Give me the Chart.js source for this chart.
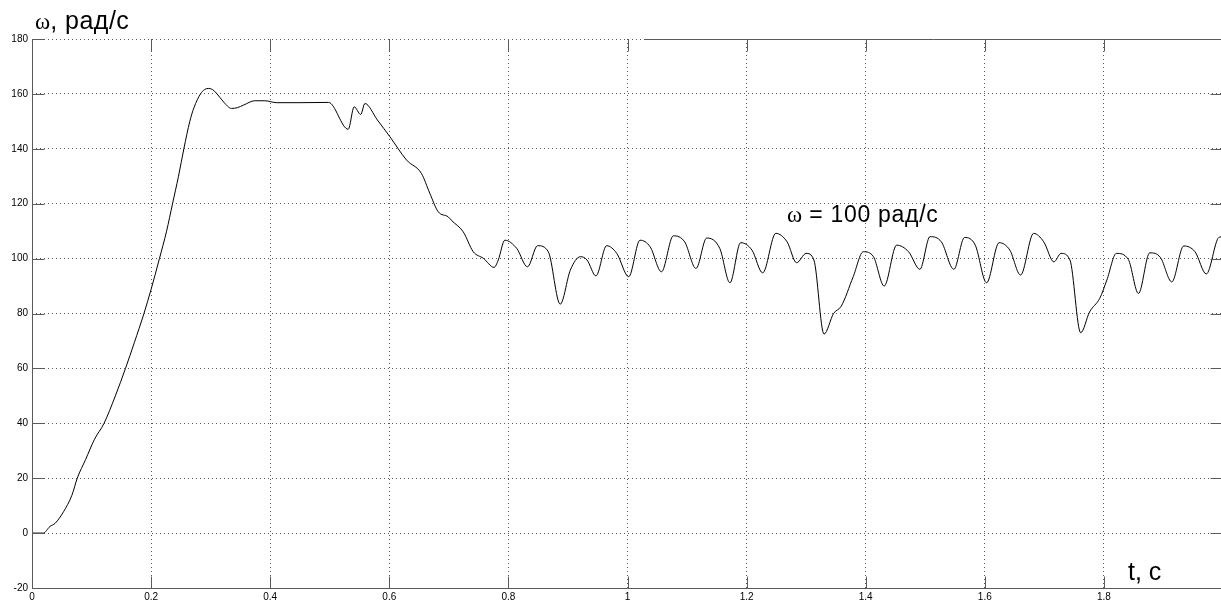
<!DOCTYPE html>
<html>
<head>
<meta charset="utf-8">
<script src="https://cdn.jsdelivr.net/npm/chart.js@4/dist/chart.umd.min.js"></script>
<style>
  html, body { margin: 0; padding: 0; background: #fff; overflow: hidden; }
  #wrap { position: relative; width: 1221px; height: 600px; overflow: hidden; }
  canvas { position: absolute; left: 0; top: 0; }
</style>
</head>
<body>
<div id="wrap"><canvas id="c" width="1240" height="620"></canvas></div>
<script>
// Rotor speed transient, ω(t)
const timeS = [
  0, 0.019, 0.030, 0.039, 0.053, 0.067, 0.076, 0.09, 0.105, 0.121,
  0.14, 0.157, 0.172, 0.188, 0.2, 0.214, 0.226, 0.236, 0.246, 0.255,
  0.265, 0.272, 0.283, 0.29, 0.296, 0.303, 0.31, 0.322, 0.335, 0.345,
  0.355, 0.374, 0.391, 0.411, 0.45, 0.498, 0.531, 0.541, 0.552, 0.559,
  0.58, 0.601, 0.629, 0.654, 0.668, 0.682, 0.699, 0.705, 0.724, 0.741,
  0.758, 0.776, 0.783, 0.794, 0.814, 0.832, 0.849, 0.867, 0.887, 0.904,
  0.921, 0.932, 0.947, 0.965, 0.982, 1.002, 1.021, 1.038, 1.057, 1.077,
  1.096, 1.115, 1.133, 1.155, 1.172, 1.19, 1.209, 1.227, 1.249, 1.268,
  1.284, 1.3, 1.313, 1.33, 1.346, 1.359, 1.379, 1.396, 1.413, 1.431,
  1.452, 1.472, 1.491, 1.508, 1.527, 1.548, 1.566, 1.584, 1.603, 1.624,
  1.642, 1.66, 1.682, 1.699, 1.716, 1.728, 1.743, 1.761, 1.776, 1.793,
  1.805, 1.821, 1.841, 1.858, 1.877, 1.895, 1.914, 1.934, 1.953, 1.972,
  1.993, 2.0
];
const omega = [
  0, 0, 2.4, 3.6, 7.8, 13.8, 20, 26.8, 34.2, 40,
  50, 60, 69.5, 80, 88.8, 100, 110, 120, 130, 140,
  150, 155, 160, 161.6, 162, 161.6, 160.2, 157, 154.7, 155,
  155.9, 157.5, 157.5, 156.8, 156.8, 156.9, 147.1, 155.3, 152.5, 156.5,
  150.5, 144.4, 135.9, 131.0, 123.8, 117.1, 115.2, 113.8, 109.8, 102.5,
  100.1, 96.8, 99.5, 106.7, 103.7, 97.0, 104.7, 102.5, 83.4, 95.8,
  100.7, 99.5, 93.7, 104.7, 101.9, 93.4, 106.7, 104.3, 95.2, 108.3,
  106.1, 96.4, 107.5, 103.7, 91.2, 105.8, 103.1, 94.8, 109.2, 106.1,
  98.5, 101.9, 99.5, 72.5, 80.0, 82.7, 93.4, 102.5, 100.7, 90.0,
  104.9, 102.5, 96.1, 108.0, 106.1, 96.1, 107.7, 104.9, 91.2, 105.8,
  103.1, 94.0, 109.2, 106.1, 98.8, 101.9, 99.5, 73.0, 80.6, 85.5,
  92.2, 101.9, 99.7, 87.3, 102.1, 100.4, 91.5, 104.6, 102.5, 94.4,
  107.7, 108
];
const xTickLabels = ['0', '0.2', '0.4', '0.6', '0.8', '1', '1.2', '1.4', '1.6', '1.8'];
const yTickLabels = ['-20', '0', '20', '40', '60', '80', '100', '120', '140', '160', '180'];
const yAxisTitle = ['ω', ', рад/с'];
const xAxisTitle = 't, с';
const steadyNote = ['ω', ' = 100 рад/с'];
const steadyNoteAt = { t: 1.268, w: 113.4 };

const canvas = document.getElementById('c');
const W = canvas.width, H = canvas.height;
const PLOT_RIGHT = 1223, PLOT_BOTTOM = 588, PLOT_TOP = 39, PLOT_LEFT = 32;
// the upper frame edge is blanked under the heading strip, up to this time value
const TOP_EDGE_FROM_T = 1.03;
const SANS = '"Liberation Sans", Arial, sans-serif';
const SERIF = '"Liberation Serif", "Times New Roman", serif';

// Box, inward tick marks and text labels on top of the plot
const frameAndText = {
  id: 'frameAndText',
  afterDraw(chart) {
    const { ctx, chartArea: a, scales: { x, y } } = chart;
    const L = Math.round(a.left) + 0.5, R = Math.round(a.right) - 0.5;
    const T = Math.round(a.top) + 0.5, B = Math.round(a.bottom) + 0.5;
    ctx.save();
    ctx.strokeStyle = '#5a5a5a';
    ctx.lineWidth = 1;
    ctx.beginPath();
    ctx.moveTo(L, T); ctx.lineTo(L, B); ctx.lineTo(R, B); ctx.lineTo(R, T);
    ctx.lineTo(Math.round(x.getPixelForValue(TOP_EDGE_FROM_T)), T);
    ctx.stroke();
    const tk = 12;
    ctx.beginPath();
    x.ticks.forEach(t => {
      const px = Math.round(x.getPixelForValue(t.value)) + 0.5;
      ctx.moveTo(px, B); ctx.lineTo(px, B - tk);
      ctx.moveTo(px, T); ctx.lineTo(px, T + tk);
    });
    y.ticks.forEach(t => {
      const py = Math.round(y.getPixelForValue(t.value)) + 0.5;
      ctx.moveTo(L, py); ctx.lineTo(L + tk, py);
      ctx.moveTo(R, py); ctx.lineTo(R - tk, py);
    });
    ctx.stroke();

    ctx.fillStyle = '#000';
    ctx.textBaseline = 'alphabetic';
    ctx.textAlign = 'left';
    // y-axis title
    let cx = 35;
    ctx.font = '23px ' + SERIF;
    ctx.fillText(yAxisTitle[0], cx, 29);
    cx += ctx.measureText(yAxisTitle[0]).width;
    ctx.font = '25px ' + SANS;
    ctx.letterSpacing = '0.5px';
    ctx.fillText(yAxisTitle[1], cx, 29);
    ctx.letterSpacing = '0px';
    // x-axis title
    ctx.font = '25px ' + SANS;
    ctx.fillText(xAxisTitle, 1128, 580);
    // steady-state note
    let nx = x.getPixelForValue(steadyNoteAt.t);
    const ny = y.getPixelForValue(steadyNoteAt.w);
    ctx.font = '23px ' + SERIF;
    ctx.fillText(steadyNote[0], nx, ny);
    nx += ctx.measureText(steadyNote[0]).width;
    ctx.font = '23px ' + SANS;
    ctx.letterSpacing = '0.7px';
    ctx.fillText(steadyNote[1], nx, ny);
    ctx.letterSpacing = '0px';
    ctx.restore();
  }
};

new Chart(canvas, {
  type: 'line',
  data: {
    datasets: [{
      data: timeS.map((t, i) => ({ x: t, y: omega[i] })),
      borderColor: '#000',
      borderWidth: 1,
      pointRadius: 0,
      fill: false,
      cubicInterpolationMode: 'monotone'
    }]
  },
  options: {
    responsive: false,
    animation: false,
    devicePixelRatio: 1,
    layout: { padding: { top: PLOT_TOP, right: W - PLOT_RIGHT, left: 0, bottom: 0 } },
    plugins: { legend: { display: false }, tooltip: { enabled: false }, title: { display: false } },
    scales: {
      x: {
        type: 'linear', min: 0, max: 2,
        afterFit(s) { s.height = H - PLOT_BOTTOM; },
        grid: { color: '#555', lineWidth: 1, drawTicks: false },
        border: { display: false, dash: [1, 3] },
        ticks: {
          stepSize: 0.2, padding: 3, color: '#000', maxRotation: 0, autoSkip: false,
          font: { family: SANS, size: 10 },
          callback: (v, i) => xTickLabels[i] ?? ''
        }
      },
      y: {
        min: -20, max: 180,
        afterFit(s) { s.width = PLOT_LEFT; },
        grid: { color: '#555', lineWidth: 1, drawTicks: false },
        border: { display: false, dash: [1, 3] },
        ticks: {
          stepSize: 20, padding: 4, color: '#000', autoSkip: false,
          font: { family: SANS, size: 10 },
          callback: (v, i) => yTickLabels[i] ?? ''
        }
      }
    }
  },
  plugins: [frameAndText]
});
</script>
</body>
</html>
